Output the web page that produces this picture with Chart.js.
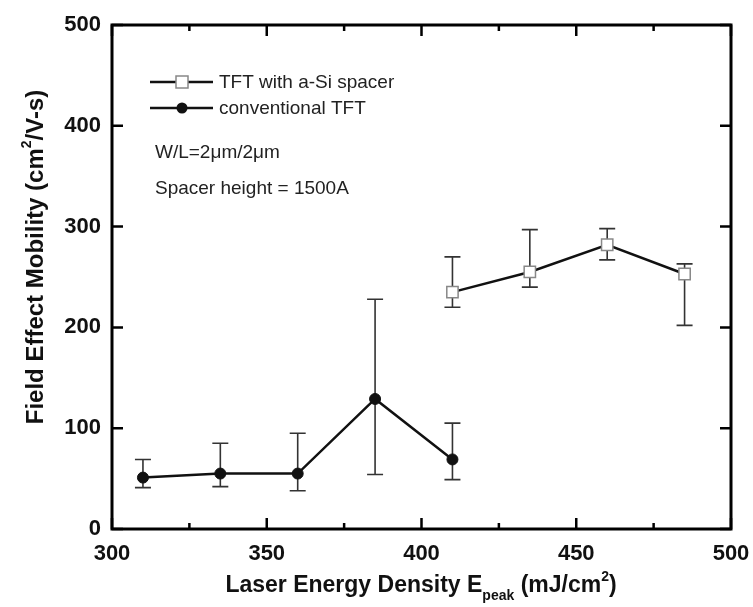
<!DOCTYPE html>
<html>
<head>
  <title>Field Effect Mobility</title>
  <style>
    body { margin: 0; background: #fff; }
    #wrap { width: 753px; height: 607px; }
  </style>
  <script src="https://cdn.jsdelivr.net/npm/chart.js"></script>
</head>
<body>
  <div id="wrap"><canvas id="chart"></canvas></div>

  <script>
    // conventional TFT
    const convEnergy = [310, 335, 360, 385, 410];
    const convMobility = [51, 55, 55, 129, 69];
    const convHigh = [69, 85, 95, 228, 105];
    const convLow = [41, 42, 38, 54, 49];

    // TFT with a-Si spacer
    const spacerEnergy = [410, 435, 460, 485];
    const spacerMobility = [235, 255, 282, 253];
    const spacerHigh = [270, 297, 298, 263];
    const spacerLow = [220, 240, 267, 202];

    const xTicks = [300, 350, 400, 450, 500];
    const xMinorTicks = [325, 375, 425, 475];
    const yTicks = [0, 100, 200, 300, 400, 500];

    const FONT = '"Liberation Sans", Arial, sans-serif';

    function toPoints(xs, ys) {
      return xs.map((x, i) => ({ x: x, y: ys[i] }));
    }

    // error bars drawn under the markers
    const errorBars = {
      id: 'errorBars',
      beforeDatasetsDraw(chart) {
        const ctx = chart.ctx;
        const xs = chart.scales.x, ys = chart.scales.y;
        ctx.save();
        chart.data.datasets.forEach((ds) => {
          ctx.strokeStyle = ds.errColor;
          ctx.lineWidth = 1.6;
          ds.data.forEach((p, i) => {
            const px = xs.getPixelForValue(p.x);
            const top = ys.getPixelForValue(ds.errHigh[i]);
            const bot = ys.getPixelForValue(ds.errLow[i]);
            ctx.beginPath();
            ctx.moveTo(px, top); ctx.lineTo(px, bot);
            ctx.moveTo(px - 8, top); ctx.lineTo(px + 8, top);
            ctx.moveTo(px - 8, bot); ctx.lineTo(px + 8, bot);
            ctx.stroke();
          });
        });
        ctx.restore();
      }
    };

    // frame, inward ticks, titles, legend and notes
    const decorations = {
      id: 'decorations',
      afterDraw(chart) {
        const ctx = chart.ctx;
        const a = chart.chartArea;
        const xs = chart.scales.x, ys = chart.scales.y;
        ctx.save();
        ctx.strokeStyle = '#000';
        ctx.lineWidth = 3;
        ctx.strokeRect(a.left, a.top, a.right - a.left, a.bottom - a.top);

        ctx.lineWidth = 2.5;
        ctx.beginPath();
        xTicks.forEach((v) => {
          const px = xs.getPixelForValue(v);
          ctx.moveTo(px, a.bottom); ctx.lineTo(px, a.bottom - 11);
          ctx.moveTo(px, a.top); ctx.lineTo(px, a.top + 11);
        });
        xMinorTicks.forEach((v) => {
          const px = xs.getPixelForValue(v);
          ctx.moveTo(px, a.bottom); ctx.lineTo(px, a.bottom - 6);
          ctx.moveTo(px, a.top); ctx.lineTo(px, a.top + 6);
        });
        yTicks.forEach((v) => {
          const py = ys.getPixelForValue(v);
          ctx.moveTo(a.left, py); ctx.lineTo(a.left + 11, py);
          ctx.moveTo(a.right, py); ctx.lineTo(a.right - 11, py);
        });
        ctx.stroke();

        // y title
        ctx.fillStyle = '#111';
        ctx.textBaseline = 'middle';
        ctx.save();
        ctx.translate(36, 257);
        ctx.rotate(-Math.PI / 2);
        drawRich(ctx, [
          ['Field Effect Mobility (cm', 'bold 24px ' + FONT, 0],
          ['2', 'bold 14px ' + FONT, -9],
          ['/V-s)', 'bold 24px ' + FONT, 0]
        ], 0, 0);
        ctx.restore();

        // x title
        drawRich(ctx, [
          ['Laser Energy Density E', 'bold 23px ' + FONT, 0],
          ['peak', 'bold 14px ' + FONT, 10],
          [' (mJ/cm', 'bold 23px ' + FONT, 0],
          ['2', 'bold 14px ' + FONT, -9],
          [')', 'bold 23px ' + FONT, 0]
        ], 421, 586);

        // legend
        ctx.textAlign = 'left';
        ctx.font = '19px ' + FONT;
        ctx.strokeStyle = '#111';
        ctx.lineWidth = 2.5;
        ctx.beginPath();
        ctx.moveTo(150, 82); ctx.lineTo(213, 82);
        ctx.moveTo(150, 108); ctx.lineTo(213, 108);
        ctx.stroke();
        ctx.fillStyle = '#fff';
        ctx.strokeStyle = '#888';
        ctx.lineWidth = 1.5;
        ctx.fillRect(176, 76, 12, 12);
        ctx.strokeRect(176, 76, 12, 12);
        ctx.fillStyle = '#111';
        ctx.beginPath();
        ctx.arc(182, 108, 5.5, 0, Math.PI * 2);
        ctx.fill();
        ctx.fillStyle = '#222';
        ctx.fillText('TFT with a-Si spacer', 219, 83);
        ctx.fillText('conventional TFT', 219, 109);
        ctx.fillText('W/L=2\u03bcm/2\u03bcm', 155, 153);
        ctx.fillText('Spacer height = 1500A', 155, 189);
        ctx.restore();
      }
    };

    // draws text pieces centred on (cx, cy), with baseline shifts
    function drawRich(ctx, parts, cx, cy) {
      let total = 0;
      parts.forEach((p) => { ctx.font = p[1]; total += ctx.measureText(p[0]).width; });
      let x = cx - total / 2;
      ctx.textAlign = 'left';
      parts.forEach((p) => {
        ctx.font = p[1];
        ctx.fillText(p[0], x, cy + p[2]);
        x += ctx.measureText(p[0]).width;
      });
    }

    new Chart(document.getElementById('chart'), {
      type: 'scatter',
      data: {
        datasets: [
          {
            label: 'TFT with a-Si spacer',
            data: toPoints(spacerEnergy, spacerMobility),
            errHigh: spacerHigh,
            errLow: spacerLow,
            errColor: '#333',
            showLine: true,
            borderColor: '#111',
            borderWidth: 2.5,
            pointStyle: 'rect',
            pointRadius: 8,
            pointBackgroundColor: '#fff',
            pointBorderColor: '#888',
            pointBorderWidth: 1.5
          },
          {
            label: 'conventional TFT',
            data: toPoints(convEnergy, convMobility),
            errHigh: convHigh,
            errLow: convLow,
            errColor: '#333',
            showLine: true,
            borderColor: '#111',
            borderWidth: 2.5,
            pointStyle: 'circle',
            pointRadius: 5.5,
            pointBackgroundColor: '#111',
            pointBorderColor: '#111',
            pointBorderWidth: 1
          }
        ]
      },
      options: {
        responsive: true,
        maintainAspectRatio: false,
        animation: false,
        layout: { padding: { top: 25, right: 22, left: 0, bottom: 0 } },
        plugins: {
          legend: { display: false },
          tooltip: { enabled: false }
        },
        scales: {
          x: {
            type: 'linear',
            min: 300,
            max: 500,
            grid: { display: false, drawTicks: false },
            border: { display: false },
            afterFit: (s) => { s.height = 78; s.paddingLeft = 0; s.paddingRight = 0; },
            afterBuildTicks: (s) => { s.ticks = xTicks.map((v) => ({ value: v })); },
            ticks: {
              padding: 12,
              color: '#111',
              maxRotation: 0,
              font: { family: FONT, size: 22, weight: 'bold' }
            }
          },
          y: {
            type: 'linear',
            min: 0,
            max: 500,
            grid: { display: false, drawTicks: false },
            border: { display: false },
            afterFit: (s) => { s.width = 112; s.paddingTop = 0; s.paddingBottom = 0; },
            afterBuildTicks: (s) => { s.ticks = yTicks.map((v) => ({ value: v })); },
            ticks: {
              padding: 11,
              color: '#111',
              font: { family: FONT, size: 22, weight: 'bold' }
            }
          }
        }
      },
      plugins: [errorBars, decorations]
    });
  </script>
</body>
</html>
